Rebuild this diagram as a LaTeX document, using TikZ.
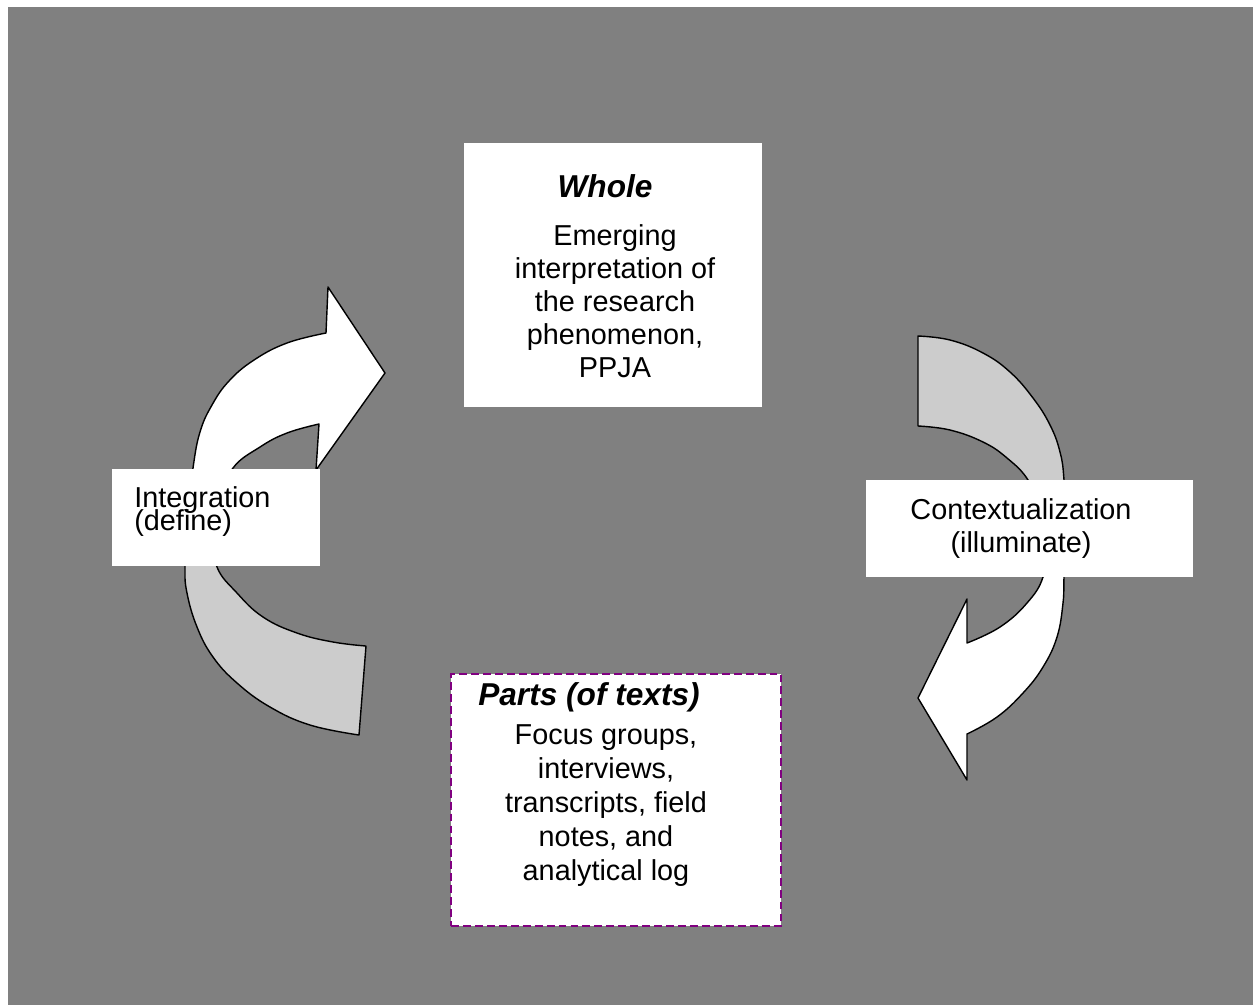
\documentclass[tikz,border=0pt]{standalone}
\usepackage{fontspec}
\setmainfont{Liberation Sans}
\usepackage{tikz}
\definecolor{bggray}{HTML}{808080}
\definecolor{tailgray}{HTML}{CCCCCC}
\definecolor{boxpurple}{HTML}{800080}
\newcommand\tightlines{\setlength{\lineskiplimit}{-50pt}}
\tikzset{bent/.style={draw=black, line width=.8pt, line join=round}}
\tikzset{box/.style={fill=white, inner sep=0pt}}
\tikzset{boxtext/.style={inner sep=0pt, anchor=north, align=center, font=\fontsize{16.4}{18.8}\selectfont}}
\tikzset{boxtitle/.style={inner sep=0pt, anchor=base, font=\fontsize{18}{20}\selectfont\bfseries\itshape}}

\begin{document}
\begin{tikzpicture}[x=.02cm, y=-.02cm]
    \fill[white](0, 0)rectangle(1253, 1005);
    \fill[bggray](8, 7)rectangle(1253, 1005);
    % integration arrow, grey tail below, white head above
    \draw[bent, fill=white, path picture={\fill[tailgray](path picture bounding box.west)rectangle(path picture bounding box.south east);}]
      (359, 735)--plot[smooth, tension=.7] coordinates{(359, 735)(310, 725)(270, 707)(237, 683)(213, 657)(197, 627)(187, 593)(185, 567)(187, 520)(193, 468)(200, 432)(212, 405)(229, 381)(254, 360)(287, 343)(326, 333)}
      --(328, 287)--(385, 373)--(316, 470)--(319, 424)
      --plot[smooth, tension=.7] coordinates{(319, 424)(287, 433)(260, 447)(233, 468)(220, 500)(214, 535)(217, 567)(237, 593)(263, 617)(297, 633)(333, 642)(366, 646)}--cycle;
    % contextualization arrow, grey tail above, white head below
    \draw[bent, fill=white, path picture={\fill[tailgray](path picture bounding box.north west)rectangle(path picture bounding box.east);}]
      (918, 336)--plot[smooth, tension=.7] coordinates{(918, 336)(950, 340)(983, 353)(1010, 372)(1033, 398)(1050, 425)(1060, 452)(1064, 480)(1066, 530)(1064, 577)(1063, 603)(1057, 637)(1043, 667)(1023, 693)(997, 717)(967, 734)}
      --(967, 780)--(918, 698)--(967, 599)--(967, 643)
      --plot[smooth, tension=.7] coordinates{(967, 643)(1000, 627)(1027, 603)(1043, 577)(1046, 545)(1040, 510)(1028, 480)(1007, 458)(983, 442)(950, 430)(918, 426)}--cycle;
    \node[box, minimum width=5.96cm, minimum height=5.28cm](whole) at (613, 275){};
    \node[box, draw=boxpurple, line width=1.1pt, dash pattern=on 4.5pt off 2.3pt, minimum width=6.6cm, minimum height=5.04cm](parts) at (616, 800){};
    \node[box, minimum width=4.16cm, minimum height=1.94cm](integ) at (216, 517.5){};
    \node[box, minimum width=6.54cm, minimum height=1.94cm](context) at (1029.5, 528.5){};
    \node[boxtitle](wholetitle) at (605, 197){Whole};
    \node[boxtext](wholetext) at (615, 224.5){Emerging\\interpretation of\\the research\\phenomenon,\\PPJA};
    \node[boxtitle](partstitle) at (589, 705){Parts (of texts)};
    \node[boxtext, font=\fontsize{16.4}{19.3}\selectfont](partstext) at (606, 724.5){Focus groups,\\interviews,\\transcripts, field\\notes, and\\analytical log};
    \node[boxtext, anchor=north west, align=left, font={\fontsize{16.4}{13}\selectfont\tightlines}](integtext) at (134, 486){Integration\\(define)};
    \node[boxtext](contexttext) at (1021, 498.5){Contextualization\\(illuminate)};
\end{tikzpicture}
\end{document}
